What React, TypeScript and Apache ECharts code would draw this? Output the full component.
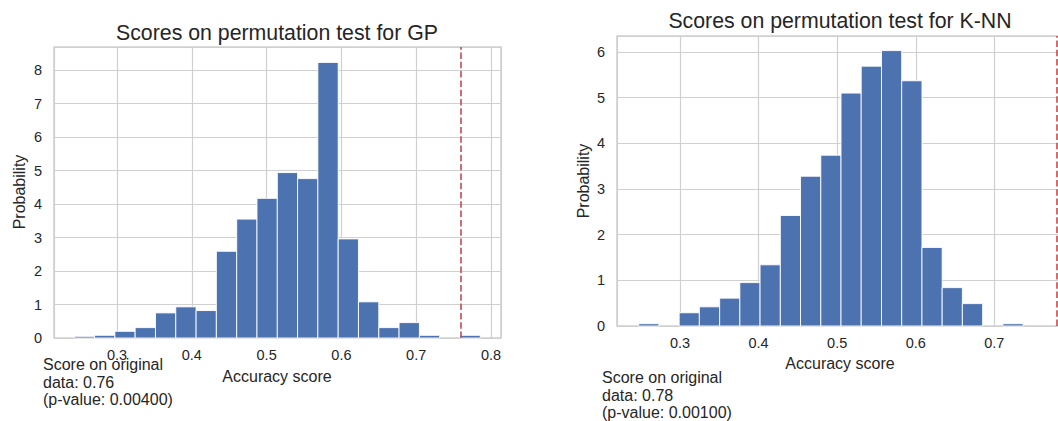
import React, { useEffect, useRef } from "react";
import * as echarts from "echarts";

// Permutation-test histograms (density), 20 bins each.
const gpBinEdges = [
  0.2428, 0.2699, 0.2971, 0.3242, 0.3514, 0.3785, 0.4057, 0.4328, 0.46, 0.4871,
  0.5143, 0.5414, 0.5685, 0.5957, 0.6228, 0.65, 0.6771, 0.7043, 0.7314, 0.7586, 0.7857,
];
const gpDensity = [
  0.05, 0.08, 0.2, 0.31, 0.75, 0.93, 0.82, 2.59, 3.55, 4.17,
  4.94, 4.76, 8.23, 2.96, 1.08, 0.31, 0.46, 0.08, 0, 0.08,
];
const gpScore = 0.758;
const gpPValue = 0.004;

const knnBinEdges = [
  0.2475, 0.2732, 0.299, 0.3247, 0.3505, 0.3762, 0.4019, 0.4277, 0.4534, 0.4792,
  0.5049, 0.5306, 0.5564, 0.5821, 0.6079, 0.6336, 0.6593, 0.6851, 0.7108, 0.7366, 0.7623,
];
const knnDensity = [
  0.05, 0, 0.29, 0.42, 0.61, 0.95, 1.34, 2.42, 3.28, 3.74,
  5.1, 5.69, 6.03, 5.37, 1.72, 0.84, 0.49, 0, 0.05, 0,
];
const knnScore = 0.778;
const knnPValue = 0.001;

const titles = ["Scores on permutation test for GP", "Scores on permutation test for K-NN"];
const xAxisName = "Accuracy score";
const yAxisName = "Probability";

const FONT = "'Liberation Sans', Arial, sans-serif";
const TEXT = "#262626";
const GRID_COLOR = "#d0d0d0";
const BAR_COLOR = "#4c72b0";
const LINE_COLOR = "#c44e52";

function binsToData(edges: number[], heights: number[]) {
  return heights.map((h, i) => [edges[i], edges[i + 1], h]);
}

function renderBar(_params: any, api: any) {
  const h = api.value(2);
  if (!h) return null;
  const p0 = api.coord([api.value(0), h]);
  const p1 = api.coord([api.value(1), 0]);
  return {
    type: "rect",
    shape: { x: p0[0], y: p0[1], width: p1[0] - p0[0], height: p1[1] - p0[1] },
    style: { fill: BAR_COLOR, stroke: "#ffffff", lineWidth: 0.9 },
  };
}

function xAxisCfg(gridIndex: number, min: number, max: number) {
  return {
    type: "value",
    gridIndex,
    min,
    max,
    splitNumber: 6,
    axisLine: { show: false },
    axisTick: { show: false },
    axisLabel: {
      showMinLabel: false,
      showMaxLabel: false,
      margin: 9,
      fontSize: 14.5,
      fontFamily: FONT,
      color: TEXT,
    },
    splitLine: { show: true, lineStyle: { color: GRID_COLOR, width: 1.2 } },
  };
}

function yAxisCfg(gridIndex: number, max: number) {
  return {
    type: "value",
    gridIndex,
    min: 0,
    max,
    interval: 1,
    axisLine: { show: false },
    axisTick: { show: false },
    axisLabel: {
      showMaxLabel: false,
      margin: 12,
      fontSize: 14.5,
      fontFamily: FONT,
      color: TEXT,
    },
    splitLine: { show: true, lineStyle: { color: GRID_COLOR, width: 1.2 } },
  };
}

function histSeries(index: number, edges: number[], heights: number[], score: number) {
  return {
    type: "custom",
    xAxisIndex: index,
    yAxisIndex: index,
    renderItem: renderBar,
    encode: { x: [0, 1], y: 2 },
    data: binsToData(edges, heights),
    z: 2,
    silent: true,
    markLine: {
      silent: true,
      symbol: "none",
      label: { show: false },
      lineStyle: { color: LINE_COLOR, width: 1.8, type: [6.5, 2.8], opacity: 0.9 },
      data: [{ xAxis: score }],
      z: 5,
    },
  };
}

function noteText(score: number, p: number) {
  return `Score on original\ndata: ${score.toFixed(2)}\n(p-value: ${p.toFixed(5)})`;
}

function txt(x: number, y: number, text: string, size: number, extra: any = {}) {
  return {
    type: "text",
    x,
    y,
    silent: true,
    style: {
      text,
      fontSize: size,
      fontFamily: FONT,
      fill: TEXT,
      align: "center",
      verticalAlign: "middle",
      ...extra,
    },
  };
}

export default function App() {
  const ref = useRef<HTMLDivElement>(null);

  useEffect(() => {
    if (!ref.current) return;
    const chart = echarts.init(ref.current, undefined, { renderer: "svg" });
    chart.setOption({
      animation: false,
      backgroundColor: "#ffffff",
      grid: [
        { left: 54, top: 47, width: 447, height: 291, show: true, borderColor: GRID_COLOR, borderWidth: 1.5, backgroundColor: "transparent" },
        { left: 617, top: 36, width: 447, height: 290, show: true, borderColor: GRID_COLOR, borderWidth: 1.5, backgroundColor: "transparent" },
      ],
      xAxis: [xAxisCfg(0, 0.2157, 0.8134), xAxisCfg(1, 0.2199, 0.7886)],
      yAxis: [yAxisCfg(0, 8.69), yAxisCfg(1, 6.35)],
      series: [
        histSeries(0, gpBinEdges, gpDensity, gpScore),
        histSeries(1, knnBinEdges, knnDensity, knnScore),
      ],
      graphic: [
        txt(277, 33, titles[0], 21.3),
        txt(840, 21, titles[1], 21.3),
        txt(277, 376, xAxisName, 16),
        txt(840, 363, xAxisName, 16),
        { ...txt(19, 192, yAxisName, 16), rotation: Math.PI / 2 },
        { ...txt(583, 181, yAxisName, 16), rotation: Math.PI / 2 },
        txt(43, 356, noteText(gpScore, gpPValue), 16, { align: "left", verticalAlign: "top", lineHeight: 17.5 }),
        txt(602, 369, noteText(knnScore, knnPValue), 16, { align: "left", verticalAlign: "top", lineHeight: 17.5 }),
      ],
    });
    return () => chart.dispose();
  }, []);

  return (
    <div
      style={{
        position: "absolute",
        left: 0,
        top: 0,
        width: 1058,
        height: 421,
        overflow: "hidden",
        background: "#ffffff",
      }}
    >
      <div ref={ref} style={{ width: 1080, height: 421 }} />
    </div>
  );
}
